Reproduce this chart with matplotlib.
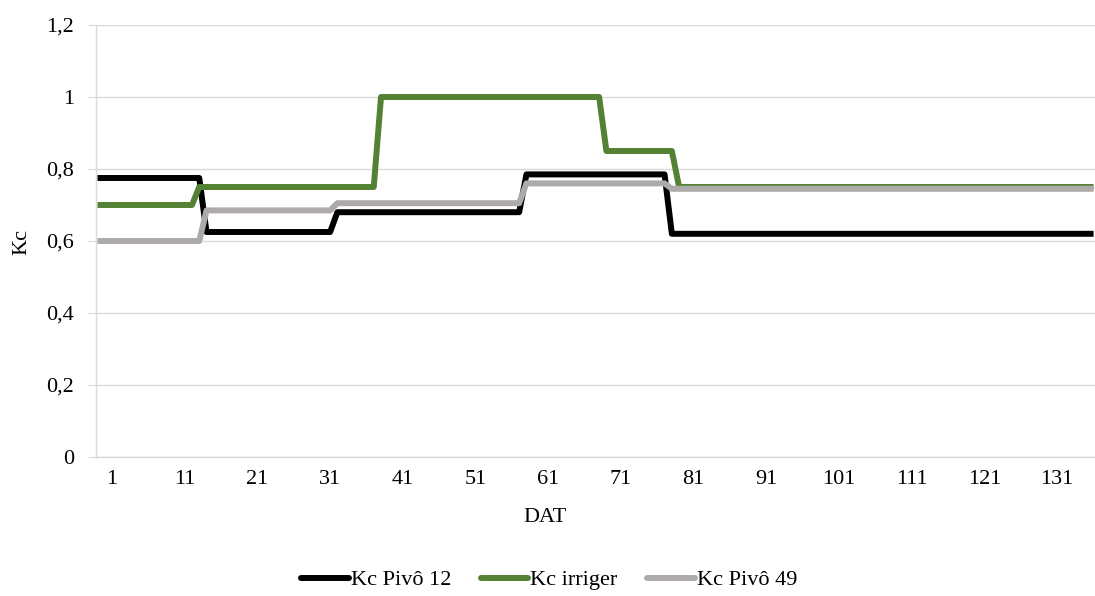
import matplotlib
matplotlib.use('Agg')
import matplotlib.pyplot as plt
import numpy as np

plt.rcParams['font.family'] = ['Liberation Serif', 'DejaVu Serif']

# DAT categories (the line starts two days before the "1" label)
dat = np.arange(-1, 137)

# each series is a run of constant Kc levels: level, number of days
pivo12_levels = [0.775, 0.625, 0.68, 0.785, 0.62]
pivo12_days = [15, 18, 26, 20, 59]
irriger_levels = [0.70, 0.75, 1.0, 0.85, 0.75]
irriger_days = [14, 25, 31, 10, 58]
pivo49_levels = [0.60, 0.685, 0.705, 0.76, 0.745]
pivo49_days = [15, 18, 26, 20, 59]

tick_days = list(range(1, 132, 10))
yticks = [0, 0.2, 0.4, 0.6, 0.8, 1.0, 1.2]
ytick_labels = ['0', '0,2', '0,4', '0,6', '0,8', '1', '1,2']

kc_pivo12 = np.repeat(pivo12_levels, pivo12_days)
kc_irriger = np.repeat(irriger_levels, irriger_days)
kc_pivo49 = np.repeat(pivo49_levels, pivo49_days)

W, H = 1095, 596
fig = plt.figure(figsize=(W / 100, H / 100), dpi=100)
ax = fig.add_axes([96 / W, 1 - 457 / H, 999 / W, 432 / H])

style = dict(lw=4.3, solid_joinstyle='round', solid_capstyle='butt')
ax.plot(dat, kc_pivo12, color='#000000', label='Kc Pivô 12', **style)
ax.plot(dat, kc_irriger, color='#548235', label='Kc irriger', **style)
ax.plot(dat, kc_pivo49, color='#AEAAAA', label='Kc Pivô 49', **style)

ax.set_xlim(-1.2, 136.2)
ax.set_ylim(0, 1.2)
ax.set_xticks(tick_days)
ax.set_xticklabels([str(d) for d in tick_days])
ax.set_yticks(yticks)
ax.set_yticklabels(ytick_labels)

ax.yaxis.grid(True, color='#D9D9D9', lw=1)
ax.set_axisbelow(True)
for s in ['top', 'right']:
    ax.spines[s].set_visible(False)
for s in ['left', 'bottom']:
    ax.spines[s].set_color('#D9D9D9')
    ax.spines[s].set_linewidth(1)

ax.tick_params(axis='y', length=5.8, color='#D9D9D9', pad=10, labelsize=16)
ax.tick_params(axis='x', length=0, pad=9, labelsize=16)

fig.text(22 / W, 1 - 242 / H, 'Kc', rotation=90, ha='center', va='center', fontsize=16)
fig.text(545 / W, 1 - 518 / H, 'DAT', ha='center', va='center', fontsize=16)

leg = fig.legend(loc='center', bbox_to_anchor=(549 / W, 1 - 580 / H), ncol=3, frameon=False,
                 fontsize=16, handlelength=2.15, handletextpad=0.08, columnspacing=1.33)
for h in leg.get_lines():
    h.set_solid_capstyle('round')

fig.savefig('out.png', dpi=100)
